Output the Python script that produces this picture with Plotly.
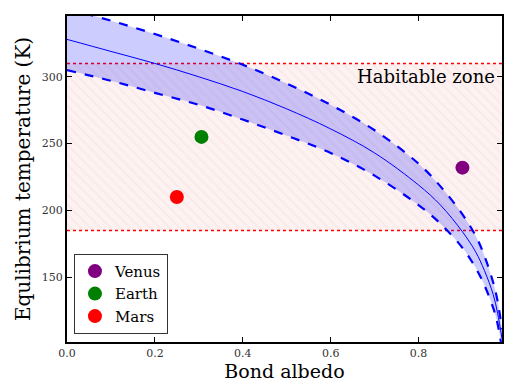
import plotly.graph_objects as go

# Values
albedo = [0.0, 0.1, 0.2, 0.3, 0.4, 0.5, 0.6, 0.7, 0.8, 0.85, 0.9, 0.93, 0.95, 0.97, 0.98, 0.99]
t_center = [328, 319, 310, 300, 289, 276, 261, 243, 219, 204, 184, 169, 155, 137, 123, 104]
t_upper = [351, 342, 332, 321, 309, 295, 279, 260, 235, 218, 197, 181, 166, 146, 132, 111]
t_lower = [305, 297, 288, 279, 268, 256, 243, 226, 204, 190, 172, 157, 144, 127, 115, 96]

hz_low, hz_high = 185, 310
x_range = [0.0, 0.99]
y_range = [101.5, 345.5]

planets = ["Venus", "Earth", "Mars"]
planet_albedo = [0.90, 0.306, 0.25]
planet_temp = [232, 255, 210]
planet_colors = ["purple", "green", "red"]

FONT = "DejaVu Serif"

fig = go.Figure()

# Habitable zone hatched fill
fig.add_trace(go.Scatter(
    x=[x_range[0], x_range[1], x_range[1], x_range[0]],
    y=[hz_low, hz_low, hz_high, hz_high],
    fill="toself", mode="none", showlegend=False, hoverinfo="skip",
    fillcolor="#fdf1f1",
    fillpattern=dict(shape="\\", bgcolor="#fdf2f2", fgcolor="#f8e0e0", size=7, solidity=0.3),
))
for yv in (hz_low, hz_high):
    fig.add_trace(go.Scatter(
        x=x_range, y=[yv, yv], mode="lines", showlegend=False, hoverinfo="skip",
        line=dict(color="red", width=1.5, dash="dot"),
    ))

# Uncertainty band
fig.add_trace(go.Scatter(x=albedo, y=t_lower, mode="lines", line=dict(width=0, shape="spline"),
                         showlegend=False, hoverinfo="skip"))
fig.add_trace(go.Scatter(x=albedo, y=t_upper, mode="lines", line=dict(width=0, shape="spline"),
                         fill="tonexty", fillcolor="rgba(0,0,255,0.2)",
                         showlegend=False, hoverinfo="skip"))
for ys in (t_lower, t_upper):
    fig.add_trace(go.Scatter(x=albedo, y=ys, mode="lines", showlegend=False,
                             line=dict(color="blue", width=2.2, dash="dash", shape="spline")))
fig.add_trace(go.Scatter(x=albedo, y=t_center, mode="lines", showlegend=False,
                         line=dict(color="blue", width=1, shape="spline")))

for name, a, t, c in zip(planets, planet_albedo, planet_temp, planet_colors):
    fig.add_trace(go.Scatter(x=[a], y=[t], mode="markers", name=name,
                             marker=dict(color=c, size=14)))

fig.add_annotation(x=x_range[1], y=300, xref="x", yref="y", text="Habitable zone",
                   showarrow=False, xanchor="right", yanchor="middle", xshift=-5,
                   font=dict(family=FONT, size=18, color="black"))

axis_common = dict(showgrid=False, zeroline=False, ticks="inside", ticklen=5,
                   tickcolor="black", showline=True, linecolor="black", linewidth=2,
                   mirror="allticks", automargin=False,
                   tickfont=dict(family=FONT, size=11, color="#333"))

fig.update_xaxes(range=x_range, tickvals=[0.0, 0.2, 0.4, 0.6, 0.8],
                 ticktext=["0.0", "0.2", "0.4", "0.6", "0.8"],
                 title=dict(text="Bond albedo", font=dict(family=FONT, size=19, color="black"),
                            standoff=4),
                 **axis_common)
fig.update_yaxes(range=y_range, tickvals=[150, 200, 250, 300],
                 title=dict(text="Equlibrium temperature (K)",
                            font=dict(family=FONT, size=20, color="black"), standoff=6),
                 **axis_common)

# page body has an 8px margin: compensate so the plot area lands where it does in the reference
fig.update_layout(
    width=511, height=374,
    margin=dict(l=59, r=17, t=8, b=40),
    plot_bgcolor="white", paper_bgcolor="white",
    font=dict(family=FONT),
    legend=dict(x=0.016, y=0.025, xanchor="left", yanchor="bottom",
                bordercolor="#333", borderwidth=1, bgcolor="white",
                font=dict(family=FONT, size=15, color="black"),
                traceorder="normal", tracegroupgap=0, itemsizing="trace"),
)

fig.write_html("out.html")
